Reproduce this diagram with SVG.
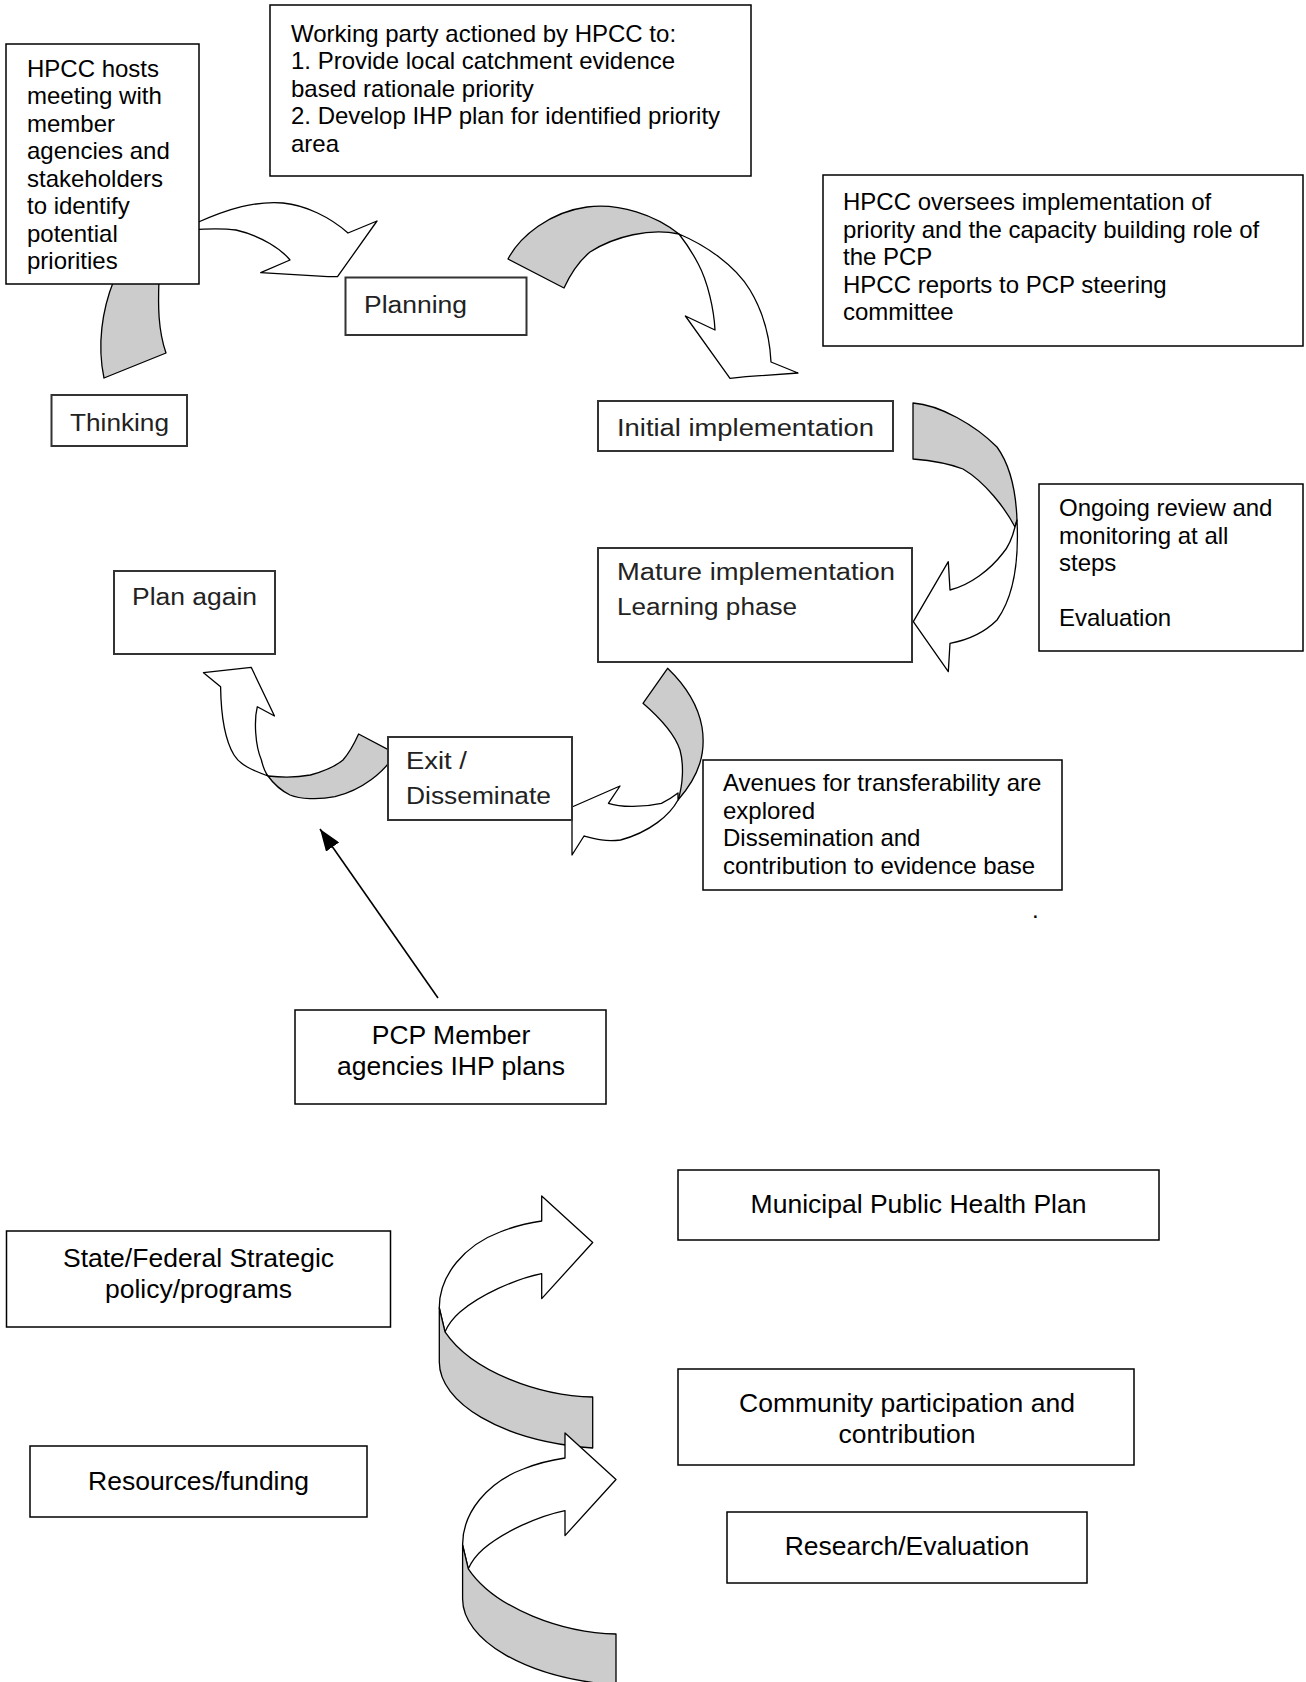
<svg xmlns="http://www.w3.org/2000/svg" width="1306" height="1682" viewBox="0 0 1306 1682">
<style>
  .box { fill: #fff; stroke: #000; stroke-width: 1.5; }
  .sbox { fill: #fff; stroke: #333; stroke-width: 2; }
  .t { font-family: "Liberation Sans", Arial, sans-serif; font-size: 24px; fill: #000; }
  .tb { font-family: "Liberation Sans", Arial, sans-serif; font-size: 26.5px; fill: #000; text-anchor: middle; }
  .st { font-family: "Liberation Sans", Arial, sans-serif; font-size: 23px; fill: #222; }
  .g { fill: #cccccc; stroke: #000; stroke-width: 1.3; stroke-linejoin: round; }
  .w { fill: #fff; stroke: #000; stroke-width: 1.3; stroke-linejoin: round; }
  .ln { stroke: #000; stroke-width: 1.6; fill: none; }
</style>
<defs>
  <marker id="ah" viewBox="0 0 22 16" refX="22" refY="8" markerWidth="22" markerHeight="16" markerUnits="userSpaceOnUse" orient="auto">
    <path d="M0,0 L22,8 L0,16 Z" fill="#000"/>
  </marker>
  <g id="spiral">
    <path class="w" d="M439.3,1308 C439,1275 465,1245 500,1232 C515,1226 528,1223 541.7,1221 L541.7,1196 L592.7,1242.5 L541.7,1298.6 L541.7,1273.6 C515,1279 480,1295 460,1312 C452,1319 448,1325 445,1331.8 Z"/>
    <path class="g" d="M439.3,1308 L439.3,1362 C439.3,1402 500,1441 592.7,1448 L592.7,1397 C540,1396 472,1372 445,1331.8 Z"/>
  </g>
</defs>

<g id="connectors">
  <!-- Thinking -> HPCC hosts (gray band) -->
  <path class="g" d="M114,280 C102,310 97,345 104,378 L166,353 C158,330 158,305 159,280 Z"/>
  <!-- HPCC hosts -> Planning -->
  <path class="w" d="M195,223.5 C230,208 255,201 283,203 C305,205 330,217 348,233 L377,221 L337.5,276.7 L328,276.7 L260.7,272.7 L290,260 C282,250 262,236 236,230 C222,228 210,229 195,229.3 Z"/>
  <!-- Planning -> Initial implementation -->
  <path class="g" d="M508,259 C520,236 550,212 587,207 C620,203 655,215 679,234 C650,228 615,236 590,252 C578,262 570,275 564,288 Z"/>
  <path class="w" d="M679,234 C705,245 735,265 750,290 C765,315 770,340 771,362 L798,373 L746,376.7 L730,378.3 L685.4,316 L715,330 C714,310 708,282 697.9,263.3 C692,252 686,243 679,234 Z"/>
  <!-- Initial -> Mature -->
  <path class="g" d="M913,403 C940,405 975,425 997,447 C1010,465 1016,492 1017,520 L1015,527 C1005,508 985,482 963,469 C945,462 925,460 913,459 Z"/>
  <path class="w" d="M1017,520 C1019,560 1015,595 997,620 C985,632 968,640 950,643.3 L948.3,671.7 L913.3,621.7 L948.3,561.7 L950,590 C970,585 990,570 1003,553 C1010,545 1013,535 1015,527 Z"/>
  <!-- Mature -> Exit -->
  <path class="g" d="M667.6,668.3 C685,685 698,705 702,727 C706,752 700,775 678,800 C683,785 684,765 680,750 C675,735 660,718 643,703.3 Z"/>
  <path class="w" d="M678,800 C670,815 650,832 620.6,840 C605,842 595,839 584,836 L572,855 L572,807 L620,786 L608.4,803.3 C620,807 640,808 661.4,803.3 C668,800 673,797 678,793 Z"/>
  <!-- Exit -> Plan again -->
  <path class="g" d="M358.6,734 L395.3,753.3 C385,772 362,790 335,796.7 C318,800 300,799 290,795 C280,790 273,783 268,776 C285,778 300,777 310.4,775 C325,771 337,765 343,760 C350,752 355,742 358.6,734 Z"/>
  <path class="w" d="M268,776 C252,770 240,765 234,755 C225,740 221,715 220.6,686.7 L203.5,672.7 L251.2,667.3 L274.5,716 L257.3,706.7 C254,720 255,745 261.4,760 C263,767 265,772 268,776 Z"/>
  <!-- PCP Member -> cycle -->
  <line class="ln" x1="438" y1="998" x2="320" y2="829" marker-end="url(#ah)"/>
  <!-- bottom spirals -->
  <use href="#spiral"/>
  <use href="#spiral" transform="translate(23.3,237)"/>
</g>

<g id="hpcc-hosts">
  <rect class="box" x="6" y="44" width="193" height="240"/>
  <text class="t" x="27" y="76.7">HPCC hosts</text>
  <text class="t" x="27" y="104.2">meeting with</text>
  <text class="t" x="27" y="131.7">member</text>
  <text class="t" x="27" y="159.2">agencies and</text>
  <text class="t" x="27" y="186.7">stakeholders</text>
  <text class="t" x="27" y="214.2">to identify</text>
  <text class="t" x="27" y="241.7">potential</text>
  <text class="t" x="27" y="269.2">priorities</text>
</g>

<g id="working-party">
  <rect class="box" x="270" y="5" width="481" height="171"/>
  <text class="t" x="291" y="41.5">Working party actioned by HPCC to:</text>
  <text class="t" x="291" y="69">1. Provide local catchment evidence</text>
  <text class="t" x="291" y="96.5">based rationale priority</text>
  <text class="t" x="291" y="124">2. Develop IHP plan for identified priority</text>
  <text class="t" x="291" y="151.5">area</text>
</g>

<g id="hpcc-oversees">
  <rect class="box" x="823" y="175" width="480" height="171"/>
  <text class="t" x="843" y="210">HPCC oversees implementation of</text>
  <text class="t" x="843" y="237.5">priority and the capacity building role of</text>
  <text class="t" x="843" y="265">the PCP</text>
  <text class="t" x="843" y="292.5">HPCC reports to PCP steering</text>
  <text class="t" x="843" y="320">committee</text>
</g>

<g id="ongoing-review">
  <rect class="box" x="1039" y="484" width="264" height="167"/>
  <text class="t" x="1059" y="516">Ongoing review and</text>
  <text class="t" x="1059" y="543.5">monitoring at all</text>
  <text class="t" x="1059" y="571">steps</text>
  <text class="t" x="1059" y="626">Evaluation</text>
</g>

<g id="avenues">
  <rect class="box" x="703" y="760" width="359" height="130"/>
  <text class="t" x="723" y="791">Avenues for transferability are</text>
  <text class="t" x="723" y="818.5">explored</text>
  <text class="t" x="723" y="846">Dissemination and</text>
  <text class="t" x="723" y="873.5">contribution to evidence base</text>
</g>

<g id="dot">
  <text class="t" x="1032" y="918">.</text>
</g>

<g id="thinking">
  <rect class="sbox" x="51.5" y="395" width="135.5" height="51"/>
  <text class="st" x="70" y="431" textLength="99" lengthAdjust="spacingAndGlyphs">Thinking</text>
</g>

<g id="planning">
  <rect class="sbox" x="345.5" y="277.5" width="181" height="57.5"/>
  <text class="st" x="364" y="313" textLength="103" lengthAdjust="spacingAndGlyphs">Planning</text>
</g>

<g id="initial-implementation">
  <rect class="sbox" x="598" y="401" width="295" height="50"/>
  <text class="st" x="617" y="435.5" textLength="257" lengthAdjust="spacingAndGlyphs">Initial implementation</text>
</g>

<g id="mature-implementation">
  <rect class="sbox" x="598" y="548" width="314" height="114"/>
  <text class="st" x="617" y="580" textLength="278" lengthAdjust="spacingAndGlyphs">Mature implementation</text>
  <text class="st" x="617" y="615" textLength="180" lengthAdjust="spacingAndGlyphs">Learning phase</text>
</g>

<g id="plan-again">
  <rect class="sbox" x="114" y="571" width="161" height="83"/>
  <text class="st" x="132" y="604.5" textLength="125" lengthAdjust="spacingAndGlyphs">Plan again</text>
</g>

<g id="exit-disseminate">
  <rect class="sbox" x="388" y="737" width="184" height="83"/>
  <text class="st" x="406" y="768.5" textLength="61" lengthAdjust="spacingAndGlyphs">Exit /</text>
  <text class="st" x="406" y="803.5" textLength="145" lengthAdjust="spacingAndGlyphs">Disseminate</text>
</g>

<g id="pcp-member">
  <rect class="box" x="295" y="1010" width="311" height="94"/>
  <text class="tb" x="451" y="1044">PCP Member</text>
  <text class="tb" x="451" y="1075">agencies IHP plans</text>
</g>

<g id="state-federal">
  <rect class="box" x="6.5" y="1231" width="384" height="96"/>
  <text class="tb" x="198.5" y="1267">State/Federal Strategic</text>
  <text class="tb" x="198.5" y="1297.5">policy/programs</text>
</g>

<g id="resources">
  <rect class="box" x="30" y="1446" width="337" height="71"/>
  <text class="tb" x="198.5" y="1490">Resources/funding</text>
</g>

<g id="municipal">
  <rect class="box" x="678" y="1170" width="481" height="70"/>
  <text class="tb" x="918.5" y="1213">Municipal Public Health Plan</text>
</g>

<g id="community">
  <rect class="box" x="678" y="1369" width="456" height="96"/>
  <text class="tb" x="907" y="1412">Community participation and</text>
  <text class="tb" x="907" y="1443">contribution</text>
</g>

<g id="research">
  <rect class="box" x="727" y="1512" width="360" height="71"/>
  <text class="tb" x="907" y="1555">Research/Evaluation</text>
</g>
</svg>
